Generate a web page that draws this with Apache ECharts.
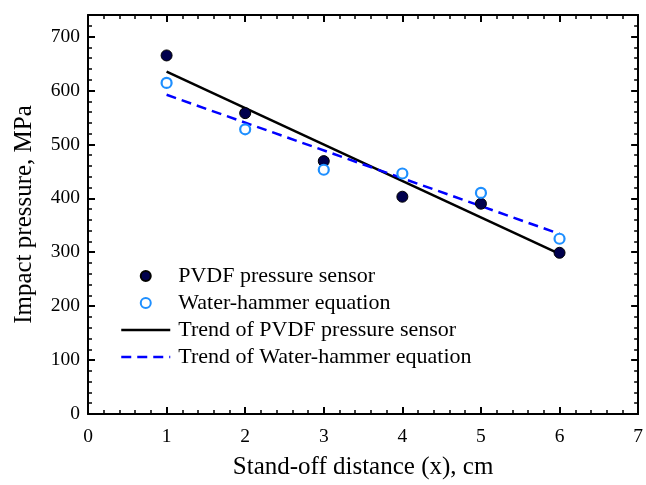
<!DOCTYPE html>
<html><head><meta charset="utf-8">
<script src="https://cdn.jsdelivr.net/npm/echarts@6/dist/echarts.min.js"></script>
<style>html,body{margin:0;padding:0;background:#fff}#c{width:646px;height:485px}</style>
</head><body><div id="c"></div>
<script>
const distances = [1, 2, 3, 4, 5, 6];
const pvdfValues = [665, 558, 469, 403, 390, 299];
const waterValues = [614, 528, 453, 446, 410, 325];
const pvdfTrendX = [1, 6];
const pvdfTrendY = [635, 297];
const waterTrendX = [1, 6];
const waterTrendY = [592, 334];
const seriesNames = ['PVDF pressure sensor', 'Water-hammer equation', 'Trend of PVDF pressure sensor', 'Trend of Water-hammer equation'];

const pair = (xs, ys) => xs.map((x, i) => [x, ys[i]]);
const font = 'Liberation Serif';
const chart = echarts.init(document.getElementById('c'), null, {renderer: 'canvas'});
const axisCommon = {
  axisLine: {show: true, onZero: false, lineStyle: {color: '#000', width: 2}},
  axisTick: {show: true, inside: true, length: 7, lineStyle: {color: '#000', width: 2}},
  minorTick: {show: true, splitNumber: 5, length: 4, lineStyle: {color: '#000', width: 1.5}},
  splitLine: {show: false}
};
chart.setOption({
  animation: false,
  backgroundColor: '#fff',
  grid: {left: 88, right: 5, top: 15, bottom: 71},
  legend: {
    orient: 'vertical', left: 115, top: 260, itemGap: 5, itemWidth: 49, itemHeight: 10,
    textStyle: {fontFamily: font, fontSize: 22, color: '#000', lineHeight: 22, padding: [0, 0, 0, 3]},
    data: [
      {name: seriesNames[0]},
      {name: seriesNames[1]},
      {name: seriesNames[2], itemStyle: {opacity: 0}, lineStyle: {color: '#000', width: 2.5}},
      {name: seriesNames[3], itemStyle: {opacity: 0}, lineStyle: {color: '#0000ff', width: 2.5, type: [10, 6]}}
    ]
  },
  xAxis: [
    Object.assign({type: 'value', min: 0, max: 7, interval: 1, position: 'bottom',
      name: 'Stand-off distance (x), cm', nameLocation: 'middle', nameGap: 41,
      nameTextStyle: {fontFamily: font, fontSize: 25, color: '#000'},
      axisLabel: {fontFamily: font, fontSize: 19.5, color: '#000', margin: 13}}, axisCommon),
    Object.assign({type: 'value', min: 0, max: 7, interval: 1, position: 'top',
      axisLabel: {show: false}}, axisCommon)
  ],
  yAxis: [
    Object.assign({type: 'value', min: 0, max: 740, interval: 100, position: 'left',
      name: 'Impact pressure, MPa', nameLocation: 'middle', nameGap: 51,
      nameTextStyle: {fontFamily: font, fontSize: 25, color: '#000'},
      axisLabel: {fontFamily: font, fontSize: 19.5, color: '#000', margin: 8, showMaxLabel: false}}, axisCommon),
    Object.assign({type: 'value', min: 0, max: 740, interval: 100, position: 'right',
      axisLabel: {show: false}}, axisCommon)
  ],
  series: [
    {name: seriesNames[2], type: 'line', data: pair(pvdfTrendX, pvdfTrendY), symbol: 'none',
      lineStyle: {color: '#000', width: 2.5}, itemStyle: {color: '#000'}, z: 2},
    {name: seriesNames[3], type: 'line', data: pair(waterTrendX, waterTrendY), symbol: 'none',
      lineStyle: {color: '#0000ff', width: 2.5, type: [10, 6]}, itemStyle: {color: '#0000ff'}, z: 2},
    {name: seriesNames[0], type: 'scatter', data: pair(distances, pvdfValues), symbol: 'circle', symbolSize: 11,
      itemStyle: {color: '#00004d', borderColor: '#000', borderWidth: 1, opacity: 1}, z: 3},
    {name: seriesNames[1], type: 'scatter', data: pair(distances, waterValues), symbol: 'circle', symbolSize: 10,
      itemStyle: {color: '#fff', borderColor: '#1e8fff', borderWidth: 2.2, opacity: 1}, z: 3}
  ]
});
</script></body></html>
